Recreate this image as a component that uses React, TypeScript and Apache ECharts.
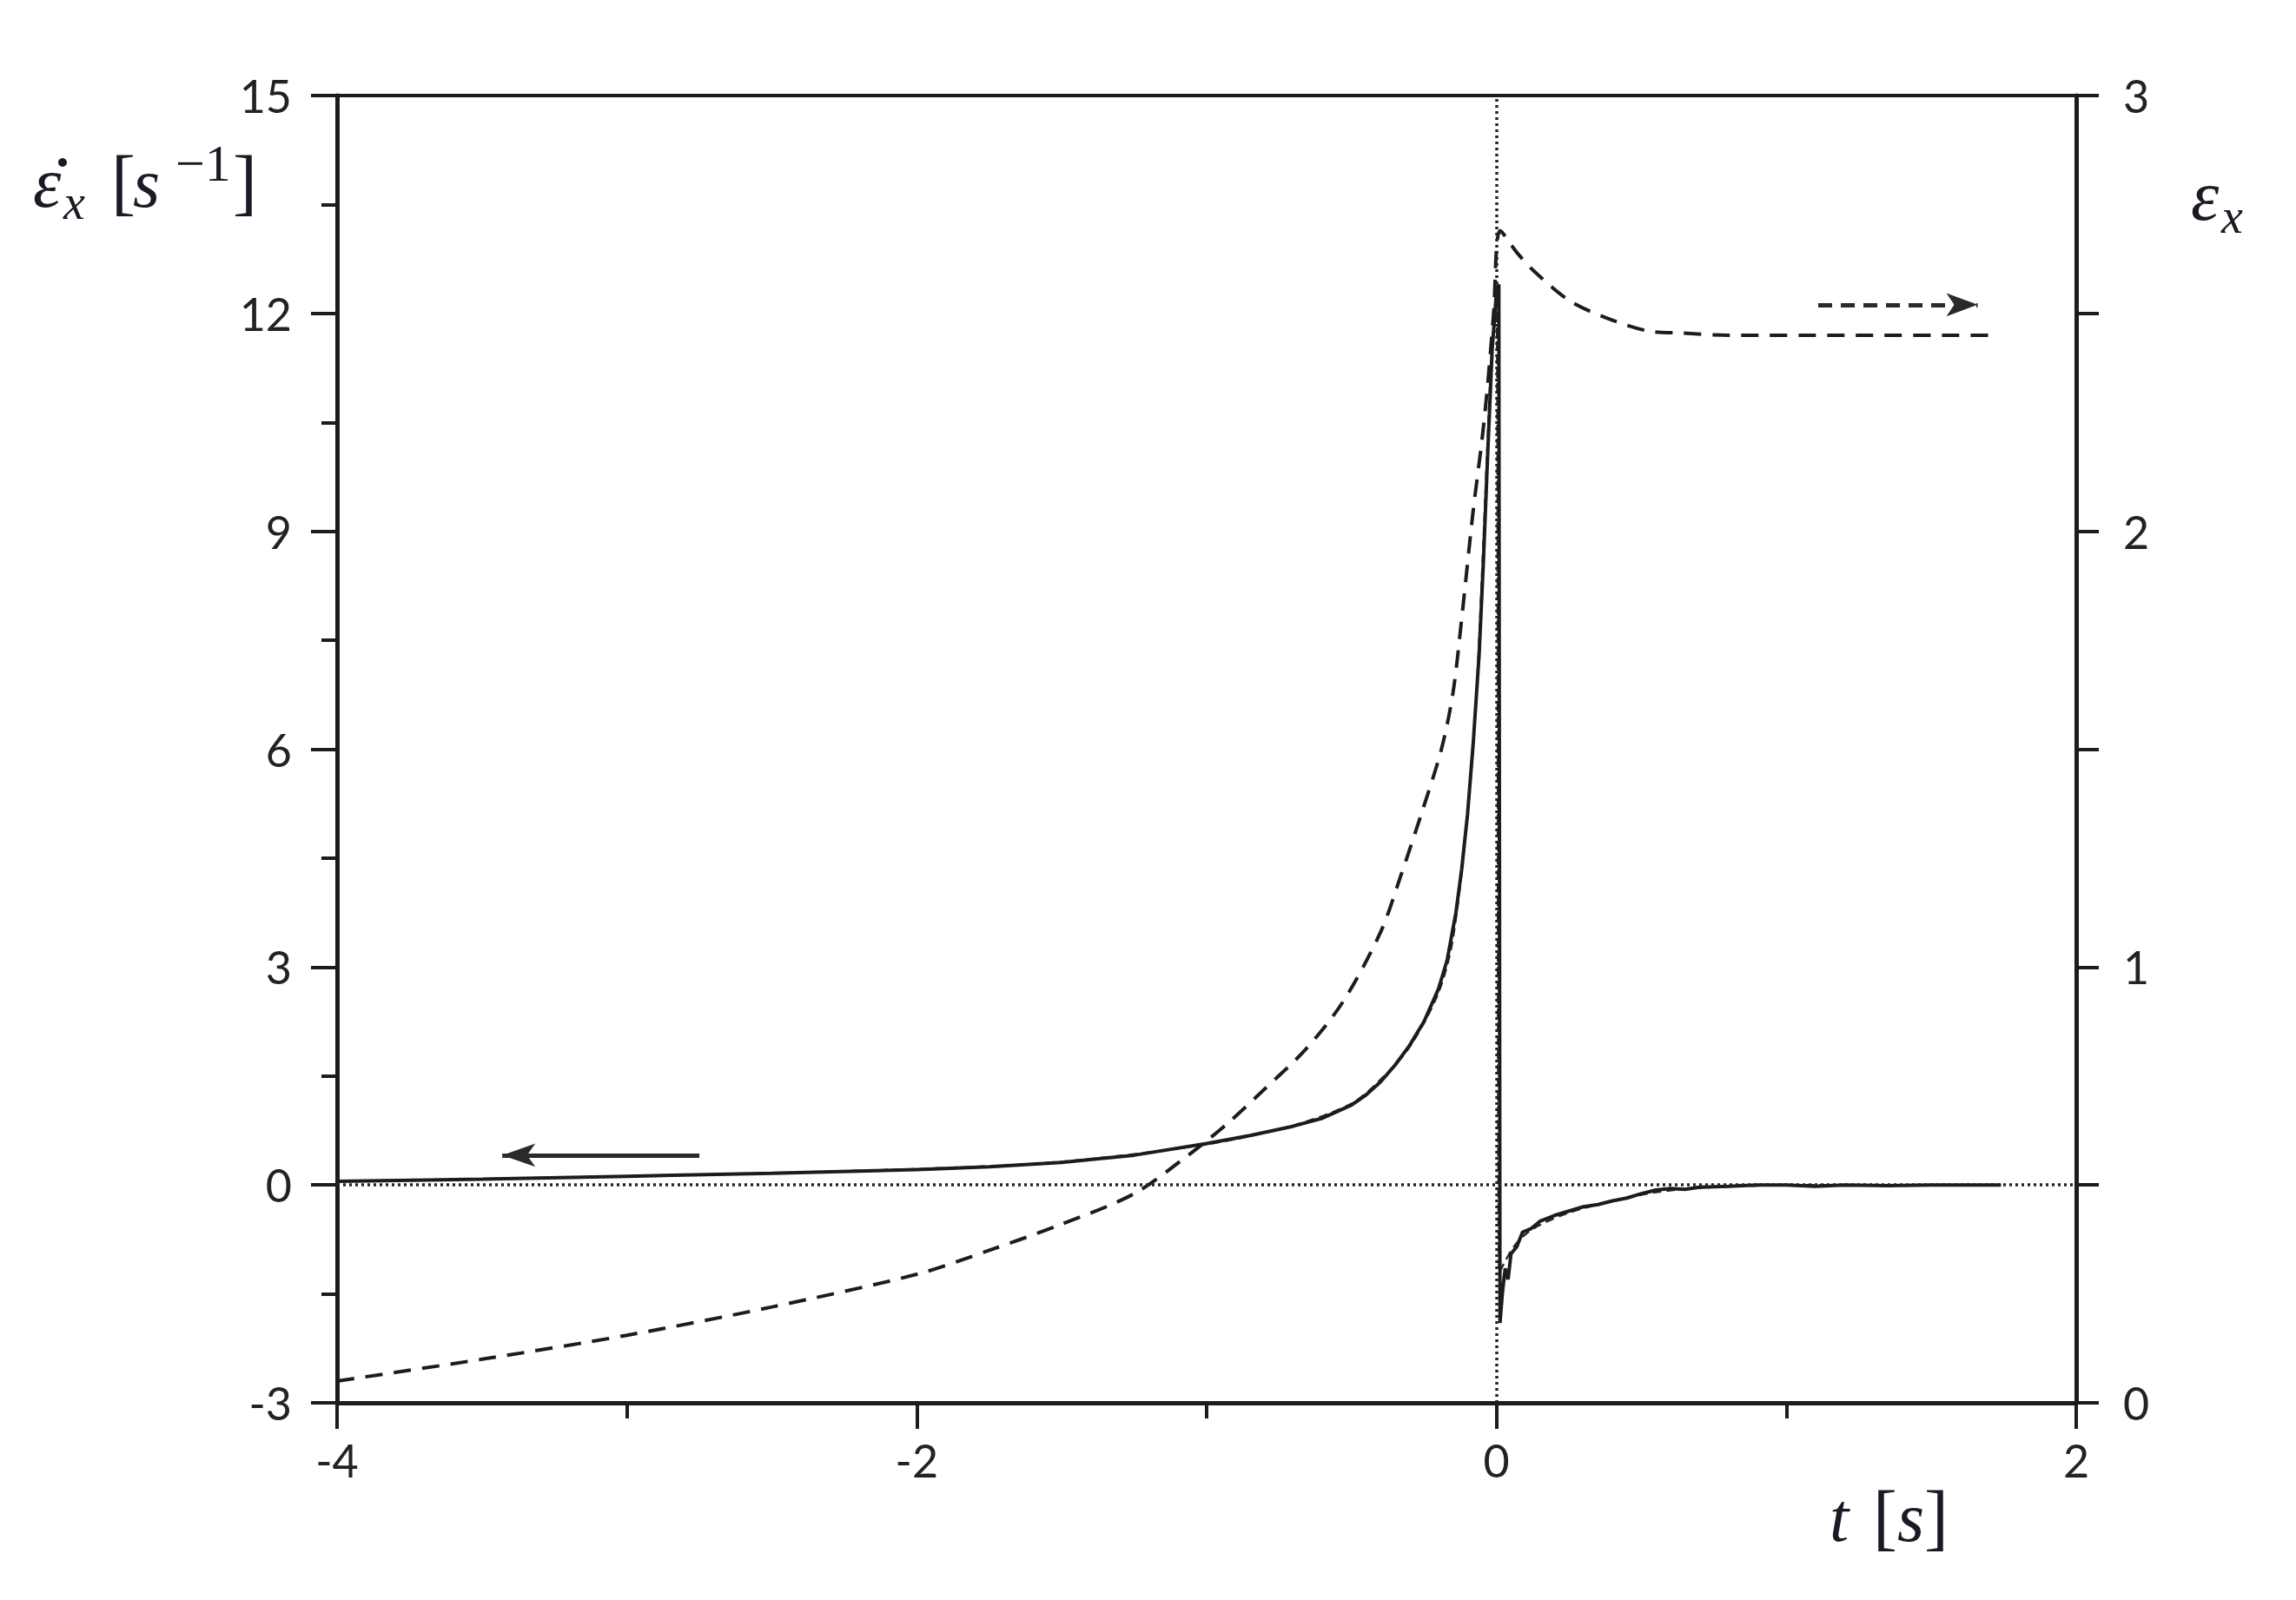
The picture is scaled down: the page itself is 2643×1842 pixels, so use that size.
import React, { useEffect, useRef } from "react";
import * as echarts from "echarts";

// ---- data ----
const rateTime = [-4, -3.5, -3, -2.5, -2, -1.75, -1.5, -1.25, -1.0, -0.85, -0.7, -0.6, -0.5, -0.45, -0.4, -0.35, -0.3, -0.25, -0.2, -0.17, -0.14, -0.12, -0.1, -0.08, -0.06, -0.045, -0.03, -0.015, 0, 0.008, 0.012, 0.02, 0.03, 0.04, 0.05, 0.07, 0.09, 0.12, 0.15, 0.2, 0.25, 0.3, 0.35, 0.4, 0.45, 0.5, 0.55, 0.6, 0.65, 0.7, 0.8, 0.9, 1.0, 1.1, 1.2, 1.35, 1.5, 1.74];
const rateMeasured = [0.05, 0.08, 0.12, 0.16, 0.21, 0.25, 0.31, 0.41, 0.57, 0.68, 0.81, 0.92, 1.1, 1.24, 1.42, 1.65, 1.92, 2.25, 2.7, 3.1, 3.75, 4.35, 5.1, 6.1, 7.3, 8.6, 10.1, 11.5, 12.3, 12.4, -1.9, -1.5, -1.15, -1.3, -0.95, -0.85, -0.65, -0.6, -0.5, -0.42, -0.36, -0.3, -0.27, -0.22, -0.18, -0.12, -0.07, -0.05, -0.06, -0.03, -0.02, 0, 0, -0.02, 0, -0.01, 0, 0];

const modelTime = [-4, -3, -2, -1.5, -1.0, -0.7, -0.5, -0.4, -0.3, -0.2, -0.15, -0.1, -0.07, -0.05, -0.03, -0.015, 0, 0.01, 0.03, 0.06, 0.1, 0.15, 0.25, 0.4, 0.55, 0.7, 0.9, 1.2, 1.74];
const rateModel = [0.05, 0.12, 0.22, 0.32, 0.56, 0.82, 1.12, 1.45, 1.9, 2.65, 3.4, 5.1, 6.7, 8.4, 10.3, 11.6, 12.0, -1.2, -1.05, -0.85, -0.68, -0.55, -0.38, -0.22, -0.1, -0.04, -0.01, 0, 0];

const strainTime = [-4, -3.5, -3, -2.5, -2, -1.75, -1.5, -1.25, -1.06, -0.93, -0.8, -0.66, -0.53, -0.4, -0.33, -0.26, -0.19, -0.15, -0.12, -0.08, -0.05, -0.03, -0.01, 0.013, 0.07, 0.133, 0.25, 0.378, 0.52, 0.64, 0.8, 1.2, 1.72];
const strainValue = [0.05, 0.1, 0.155, 0.22, 0.295, 0.35, 0.41, 0.48, 0.57, 0.64, 0.72, 0.81, 0.92, 1.08, 1.21, 1.35, 1.5, 1.63, 1.8, 2.05, 2.21, 2.34, 2.5, 2.69, 2.64, 2.595, 2.53, 2.49, 2.46, 2.455, 2.45, 2.45, 2.45];

const leftArrowFrom = [-2.75, 0.41];
const leftArrowTo = [-3.43, 0.41];
const rightArrowFrom = [1.11, 2.52];
const rightArrowTo = [1.66, 2.52];

const xRange = [-4, 2];
const leftRange = [-3, 15];
const rightRange = [0, 3];

const INK = "#1c1c1c";
const TEXT_INK = "#1a1a24";
const LABEL_FONT = "Lato";
const MATH_FONT = "Liberation Serif";

const zip = (xs: number[], ys: number[]) => xs.map((x, i) => [x, ys[i]]);

function mathText(x: number, baseline: number, text: string, size: number, italic: boolean) {
  return {
    type: "text",
    x,
    y: baseline - 0.34 * size,
    style: {
      text,
      fill: TEXT_INK,
      font: `${italic ? "italic " : ""}${size}px "${MATH_FONT}"`,
      align: "left",
      verticalAlign: "middle",
    },
    silent: true,
  };
}

export default function App() {
  const ref = useRef<HTMLDivElement>(null);

  useEffect(() => {
    if (!ref.current) return;
    const chart = echarts.init(ref.current, undefined, { renderer: "svg" });

    const axisLine = { show: true, onZero: false, lineStyle: { color: INK, width: 5 } };
    const tick = (len: number) => ({ show: true, length: len, lineStyle: { color: INK, width: 4 } });

    const option: any = {
      animation: false,
      backgroundColor: "#ffffff",
      grid: {
        left: 388,
        right: 253,
        top: 110,
        bottom: 227,
        show: true,
        borderColor: INK,
        borderWidth: 4,
        backgroundColor: "transparent",
      },
      xAxis: {
        type: "value",
        min: xRange[0],
        max: xRange[1],
        interval: 2,
        axisLine,
        axisTick: tick(30),
        minorTick: { show: true, splitNumber: 2, length: 18, lineStyle: { color: INK, width: 4 } },
        splitLine: { show: false },
        minorSplitLine: { show: false },
        axisLabel: { fontSize: 52, fontFamily: LABEL_FONT, color: "#222", margin: 40 },
      },
      yAxis: [
        {
          type: "value",
          position: "left",
          min: leftRange[0],
          max: leftRange[1],
          interval: 3,
          axisLine,
          axisTick: tick(30),
          minorTick: { show: true, splitNumber: 2, length: 18, lineStyle: { color: INK, width: 4 } },
          splitLine: { show: false },
          minorSplitLine: { show: false },
          axisLabel: { fontSize: 52, fontFamily: LABEL_FONT, color: "#222", margin: 52 },
        },
        {
          type: "value",
          position: "right",
          min: rightRange[0],
          max: rightRange[1],
          interval: 1,
          axisLine,
          axisTick: tick(26),
          minorTick: { show: true, splitNumber: 2, length: 26, lineStyle: { color: INK, width: 4 } },
          splitLine: { show: false },
          minorSplitLine: { show: false },
          axisLabel: { fontSize: 52, fontFamily: LABEL_FONT, color: "#222", margin: 54 },
        },
      ],
      series: [
        {
          name: "measured strain rate",
          type: "line",
          yAxisIndex: 0,
          data: zip(rateTime, rateMeasured),
          showSymbol: false,
          smooth: false,
          lineStyle: { color: INK, width: 4 },
          z: 3,
          markLine: {
            silent: true,
            symbol: ["none", "none"],
            label: { show: false },
            emphasis: { disabled: true },
            lineStyle: { color: "#222", width: 3.5, type: [3, 4] },
            data: [{ yAxis: 0 }, { xAxis: 0 }],
          },
        },
        {
          name: "model strain rate",
          type: "line",
          yAxisIndex: 0,
          data: zip(modelTime, rateModel),
          showSymbol: false,
          smooth: 0.3,
          lineStyle: { color: "#2a2a2a", width: 2.5, type: [10, 6] },
          z: 2,
          markLine: {
            silent: true,
            symbol: ["none", "arrow"],
            symbolSize: [20, 38],
            label: { show: false },
            emphasis: { disabled: true },
            lineStyle: { color: "#2a2a2a", width: 5, type: "solid" },
            itemStyle: { color: "#2a2a2a" },
            data: [[{ coord: leftArrowFrom }, { coord: leftArrowTo }]],
          },
        },
        {
          name: "strain",
          type: "line",
          yAxisIndex: 1,
          data: zip(strainTime, strainValue),
          showSymbol: false,
          smooth: 0.3,
          lineStyle: { color: INK, width: 4, type: [20, 13] },
          z: 2,
          markLine: {
            silent: true,
            symbol: ["none", "arrow"],
            symbolSize: [20, 36],
            label: { show: false },
            emphasis: { disabled: true },
            lineStyle: { color: "#2a2a2a", width: 5, type: [16, 10] },
            itemStyle: { color: "#2a2a2a" },
            data: [[{ coord: rightArrowFrom }, { coord: rightArrowTo }]],
          },
        },
      ],
      graphic: [
        // left axis name: ε̇x [s^-1]
        mathText(38, 238, "ε", 82, true),
        { type: "circle", shape: { cx: 72, cy: 187, r: 5 }, style: { fill: TEXT_INK }, silent: true },
        mathText(73, 252, "x", 56, true),
        mathText(128, 238, "[", 84, false),
        mathText(153, 238, "s", 80, true),
        mathText(202, 208, "−1", 60, false),
        mathText(268, 238, "]", 84, false),
        // right axis name: εx
        mathText(2522, 253, "ε", 82, true),
        mathText(2557, 268, "x", 56, true),
        // x axis name: t [s]
        mathText(2106, 1774, "t", 80, true),
        {
          type: "text",
          x: 2156,
          y: 1774 - 0.34 * 80,
          silent: true,
          style: {
            text: "{u|[}{i|s}{u|]}",
            align: "left",
            verticalAlign: "middle",
            rich: {
              i: { fontFamily: MATH_FONT, fontStyle: "italic", fontSize: 80, fill: TEXT_INK, color: TEXT_INK },
              u: { fontFamily: MATH_FONT, fontSize: 84, fill: TEXT_INK, color: TEXT_INK },
            },
            font: `80px "${MATH_FONT}"`,
            fill: TEXT_INK,
          },
        },
      ],
    };

    chart.setOption(option);
    return () => chart.dispose();
  }, []);

  return (
    <div
      ref={ref}
      style={{ position: "absolute", left: 0, top: 0, width: 2643, height: 1842, background: "#fff" }}
    />
  );
}
